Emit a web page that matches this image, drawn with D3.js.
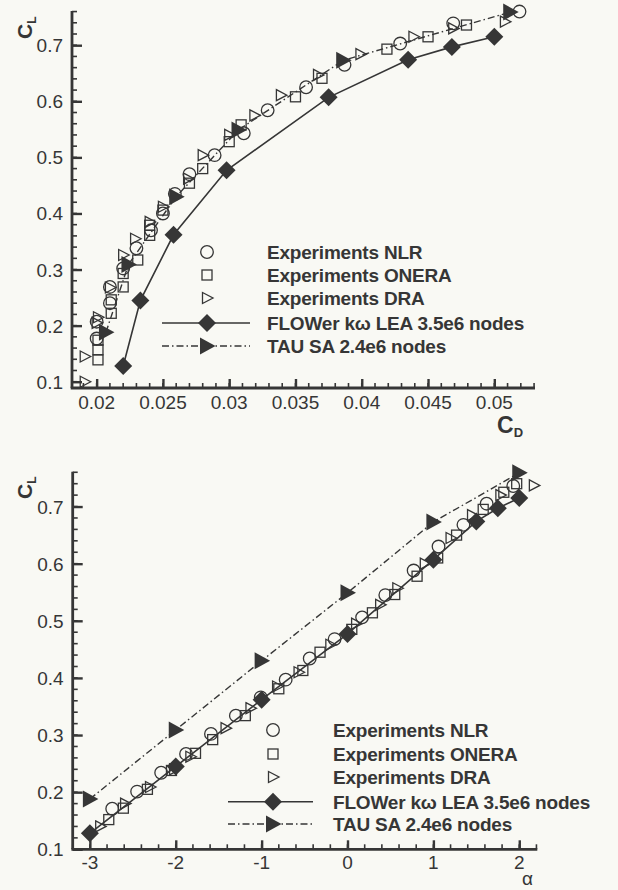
<!DOCTYPE html>
<html><head><meta charset="utf-8">
<script src="https://cdn.jsdelivr.net/npm/d3@7"></script>
<style>
html,body{margin:0;padding:0;background:#f9f9f4;}
svg{display:block;}
text{font-family:"Liberation Sans",Arial,Helvetica,sans-serif;fill:#363636;}
</style></head>
<body>
<svg id="c" width="618" height="890"></svg>
<script>
// ---------- DATA ----------
// CFD results (shared CL between panels)
const flowerAlpha = [-3, -2, -1, 0, 1, 1.5, 1.75, 2];
const flowerCD    = [0.0220, 0.0233, 0.0258, 0.0298, 0.0375, 0.0435, 0.0468, 0.0500];
const flowerCL    = [0.128, 0.245, 0.362, 0.477, 0.607, 0.674, 0.697, 0.715];
const tauAlpha = [-3, -2, -1, 0, 1, 2];
const tauCD    = [0.0207, 0.0224, 0.0260, 0.0307, 0.0386, 0.0512];
const tauCL    = [0.188, 0.309, 0.430, 0.549, 0.673, 0.759];

// Experiments, polar (top panel)
const nlrCD = [0.0200,0.0200,0.0210,0.0210,0.0220,0.0230,0.0241,0.0250,0.0259,0.0270,0.0289,0.0311,0.0329,0.0358,0.0387,0.0429,0.0469,0.0519];
const nlrCLp = [0.177,0.207,0.240,0.269,0.302,0.338,0.370,0.400,0.435,0.470,0.504,0.543,0.584,0.625,0.665,0.703,0.739,0.760];
const oneraCD = [0.0201,0.0201,0.0201,0.0211,0.0211,0.0220,0.0220,0.0231,0.0240,0.0240,0.0250,0.0270,0.0280,0.0300,0.0309,0.0350,0.0370,0.0419,0.0450,0.0479];
const oneraCLp = [0.139,0.157,0.174,0.222,0.246,0.269,0.293,0.317,0.361,0.379,0.406,0.454,0.480,0.528,0.558,0.608,0.641,0.693,0.715,0.736];
const draCD = [0.0191,0.0191,0.0200,0.0201,0.0210,0.0220,0.0229,0.0240,0.0250,0.0269,0.0280,0.0300,0.0319,0.0339,0.0367,0.0399,0.0439,0.0469,0.0508];
const draCLp = [0.100,0.145,0.205,0.215,0.268,0.326,0.355,0.385,0.412,0.462,0.504,0.540,0.575,0.611,0.647,0.684,0.715,0.730,0.742];

// Experiments, lift curve (bottom panel)
const nlrAlpha = [-2.74,-2.45,-2.17,-1.88,-1.59,-1.30,-1.01,-0.72,-0.44,-0.15,0.17,0.44,0.77,1.06,1.35,1.62,1.93];
const nlrCLa = [0.171,0.201,0.234,0.267,0.302,0.334,0.366,0.397,0.434,0.468,0.506,0.545,0.588,0.630,0.668,0.705,0.736];
const oneraAlpha = [-2.78,-2.61,-2.33,-2.05,-1.77,-1.57,-1.19,-0.80,-0.52,-0.32,0.05,0.29,0.55,0.81,1.05,1.27,1.58,1.82,1.97];
const oneraCLa = [0.152,0.172,0.205,0.238,0.268,0.292,0.334,0.381,0.413,0.445,0.485,0.514,0.546,0.578,0.610,0.650,0.695,0.725,0.740];
const draAlpha = [-2.88,-2.59,-2.30,-2.02,-1.83,-1.42,-1.13,-0.82,-0.57,-0.20,0.10,0.38,0.58,0.90,1.20,1.45,1.78,2.17];
const draCLa = [0.140,0.180,0.209,0.240,0.262,0.312,0.347,0.385,0.410,0.458,0.495,0.528,0.557,0.600,0.645,0.685,0.720,0.737];

// Ticks
const clTicks = [0.1, 0.2, 0.3, 0.4, 0.5, 0.6, 0.7];
const clLabels = ["0.1","0.2","0.3","0.4","0.5","0.6","0.7"];
const cdTicks = [0.02, 0.025, 0.03, 0.035, 0.04, 0.045, 0.05];
const cdLabels = ["0.02","0.025","0.03","0.035","0.04","0.045","0.05"];
const alphaTicks = [-3, -2, -1, 0, 1, 2];
const alphaLabels = ["-3","-2","-1","0","1","2"];

const legendNames = ["Experiments NLR","Experiments ONERA","Experiments DRA","FLOWer k\u03c9 LEA 3.5e6 nodes","TAU SA 2.4e6 nodes"];

// ---------- DRAWING ----------
const INK = "#363636";
const svg = d3.select("#c");

function zip(a, b){ return a.map((v,i)=>[v,b[i]]); }

const sym = {
  circle: g => g.append("circle").attr("r",6.3).attr("fill","none").attr("stroke",INK).attr("stroke-width",1.3),
  square: g => g.append("rect").attr("x",-5).attr("y",-5).attr("width",10).attr("height",10).attr("fill","none").attr("stroke",INK).attr("stroke-width",1.3),
  otri: g => g.append("path").attr("d","M-4.5,-5.5L6,0L-4.5,5.5Z").attr("fill","none").attr("stroke",INK).attr("stroke-width",1.3),
  diamond: g => g.append("path").attr("d","M0,-9L9,0L0,9L-9,0Z").attr("fill",INK),
  ftri: g => g.append("path").attr("d","M-7,-8.5L8.5,0L-7,8.5Z").attr("fill",INK)
};

function panel(o){
  const x = d3.scaleLinear().domain(o.xDomain).range(o.xRange);
  const y = d3.scaleLinear().domain(o.yDomain).range(o.yRange);
  const g = svg.append("g");

  // minor ticks
  const xMinor = d3.range(o.xMinor[0], o.xDomain[1] + 1e-9, o.xMinor[1]);
  const yMinor = d3.range(o.yMinor[0], o.yDomain[1] + 1e-9, o.yMinor[1]);
  const xAxisY = o.yRange[0], yAxisX = o.xRange[0];
  g.selectAll(".xm").data(xMinor).join("line")
    .attr("x1",d=>x(d)).attr("x2",d=>x(d)).attr("y1",xAxisY).attr("y2",xAxisY-5)
    .attr("stroke",INK).attr("stroke-width",1.6);
  g.selectAll(".ym").data(yMinor).join("line")
    .attr("y1",d=>y(d)).attr("y2",d=>y(d)).attr("x1",yAxisX).attr("x2",yAxisX+5)
    .attr("stroke",INK).attr("stroke-width",1.6);

  // major axes via d3 axes (inward ticks)
  const xAx = d3.axisTop(x).tickValues(o.xTicks).tickSize(9).tickFormat(()=> "");
  const gx = g.append("g").attr("transform",`translate(0,${xAxisY})`).call(xAx);
  gx.select(".domain").remove();
  gx.selectAll("line").attr("stroke",INK).attr("stroke-width",2.4);
  const yAx = d3.axisRight(y).tickValues(o.yTicks).tickSize(10).tickFormat(()=> "");
  const gy = g.append("g").attr("transform",`translate(${yAxisX},0)`).call(yAx);
  gy.select(".domain").remove();
  gy.selectAll("line").attr("stroke",INK).attr("stroke-width",2.4);

  // axis lines
  g.append("line").attr("x1",yAxisX-1.3).attr("x2",o.xRange[1]).attr("y1",xAxisY).attr("y2",xAxisY)
    .attr("stroke",INK).attr("stroke-width",2.8);
  g.append("line").attr("x1",yAxisX).attr("x2",yAxisX).attr("y1",o.yRange[1]).attr("y2",xAxisY)
    .attr("stroke",INK).attr("stroke-width",2.8);

  // tick labels
  g.selectAll(".xl").data(o.xTicks).join("text")
    .attr("x",d=>x(d)).attr("y",xAxisY+o.xLabelDy).attr("text-anchor","middle")
    .attr("font-size",19).text((d,i)=>o.xLabels[i]);
  g.selectAll(".yl").data(o.yTicks).join("text")
    .attr("x",yAxisX-9).attr("y",d=>y(d)+7).attr("text-anchor","end")
    .attr("font-size",19).text((d,i)=>o.yLabels[i]);

  // C_L title (rotated)
  const ct = g.append("text").attr("transform",`translate(${o.clPos[0]},${o.clPos[1]}) rotate(-90)`)
    .attr("font-weight","bold").attr("font-size",21);
  ct.append("tspan").text("C");
  ct.append("tspan").attr("font-size",12).attr("dy",4).text("L");

  // x title
  o.xTitle(g);

  // curves
  const line = d3.line().x(d=>x(d[0])).y(d=>y(d[1]));
  g.append("path").datum(zip(o.tauX, tauCL)).attr("d",line).attr("fill","none")
    .attr("stroke",INK).attr("stroke-width",1.4).attr("stroke-dasharray","7,3,1.5,3");
  g.append("path").datum(zip(o.flowerX, flowerCL)).attr("d",line).attr("fill","none")
    .attr("stroke",INK).attr("stroke-width",1.6);

  function marks(data, s){
    g.append("g").selectAll("g").data(data).join("g")
      .attr("transform",d=>`translate(${x(d[0])},${y(d[1])})`).each(function(){ sym[s](d3.select(this)); });
  }
  marks(zip(o.nlr[0], o.nlr[1]), "circle");
  marks(zip(o.onera[0], o.onera[1]), "square");
  marks(zip(o.dra[0], o.dra[1]), "otri");
  marks(zip(o.flowerX, flowerCL), "diamond");
  marks(zip(o.tauX, tauCL), "ftri");

  // legend
  const L = o.legend;
  const kinds = ["circle","square","otri","diamond","ftri"];
  legendNames.forEach((name,i)=>{
    const cy = L.y[i];
    const lg = g.append("g");
    if(i===3){
      lg.append("line").attr("x1",L.x0).attr("x2",L.x1).attr("y1",cy).attr("y2",cy).attr("stroke",INK).attr("stroke-width",1.6);
    }
    if(i===4){
      lg.append("line").attr("x1",L.x0).attr("x2",L.x1).attr("y1",cy).attr("y2",cy).attr("stroke",INK).attr("stroke-width",1.4).attr("stroke-dasharray","7,3,1.5,3");
    }
    const sg = lg.append("g").attr("transform",`translate(${L.sx},${cy})`);
    sym[kinds[i]](sg);
    lg.append("text").attr("x",L.tx).attr("y",cy+7).attr("font-weight","bold").attr("font-size",19)
      .attr("letter-spacing","-0.2").text(name);
  });
}

// top panel: CL vs CD
panel({
  xDomain:[0.01814, 0.05307], xRange:[72, 535],
  yDomain:[0.0888, 0.761], yRange:[388, 11],
  xTicks:cdTicks, xLabels:cdLabels, yTicks:clTicks, yLabels:clLabels,
  xMinor:[0.019, 0.001], yMinor:[0.1, 0.02],
  xLabelDy:21,
  clPos:[32, 39],
  xTitle: g => {
    const t = g.append("text").attr("x",497).attr("y",433).attr("font-weight","bold").attr("font-size",23);
    t.append("tspan").text("C");
    t.append("tspan").attr("font-size",13).attr("dy",4).text("D");
  },
  tauX:tauCD, flowerX:flowerCD,
  nlr:[nlrCD, nlrCLp], onera:[oneraCD, oneraCLp], dra:[draCD, draCLp],
  legend:{x0:162, x1:250, sx:207, tx:267, y:[252,275,298,323,346]}
});

// bottom panel: CL vs alpha
panel({
  xDomain:[-3.2, 2.21], xRange:[72.7, 537.3],
  yDomain:[0.1, 0.761], yRange:[849.3, 471.7],
  xTicks:alphaTicks, xLabels:alphaLabels, yTicks:clTicks, yLabels:clLabels,
  xMinor:[-3.2, 0.2], yMinor:[0.1, 0.02],
  xLabelDy:20,
  clPos:[32, 499],
  xTitle: g => {
    g.append("text").attr("x",522).attr("y",885).attr("font-size",19).text("\u03b1");
  },
  tauX:tauAlpha, flowerX:flowerAlpha,
  nlr:[nlrAlpha, nlrCLa], onera:[oneraAlpha, oneraCLa], dra:[draAlpha, draCLa],
  legend:{x0:228, x1:313, sx:273, tx:333, y:[730,754,777,801.7,824]}
});
</script>
</body></html>
